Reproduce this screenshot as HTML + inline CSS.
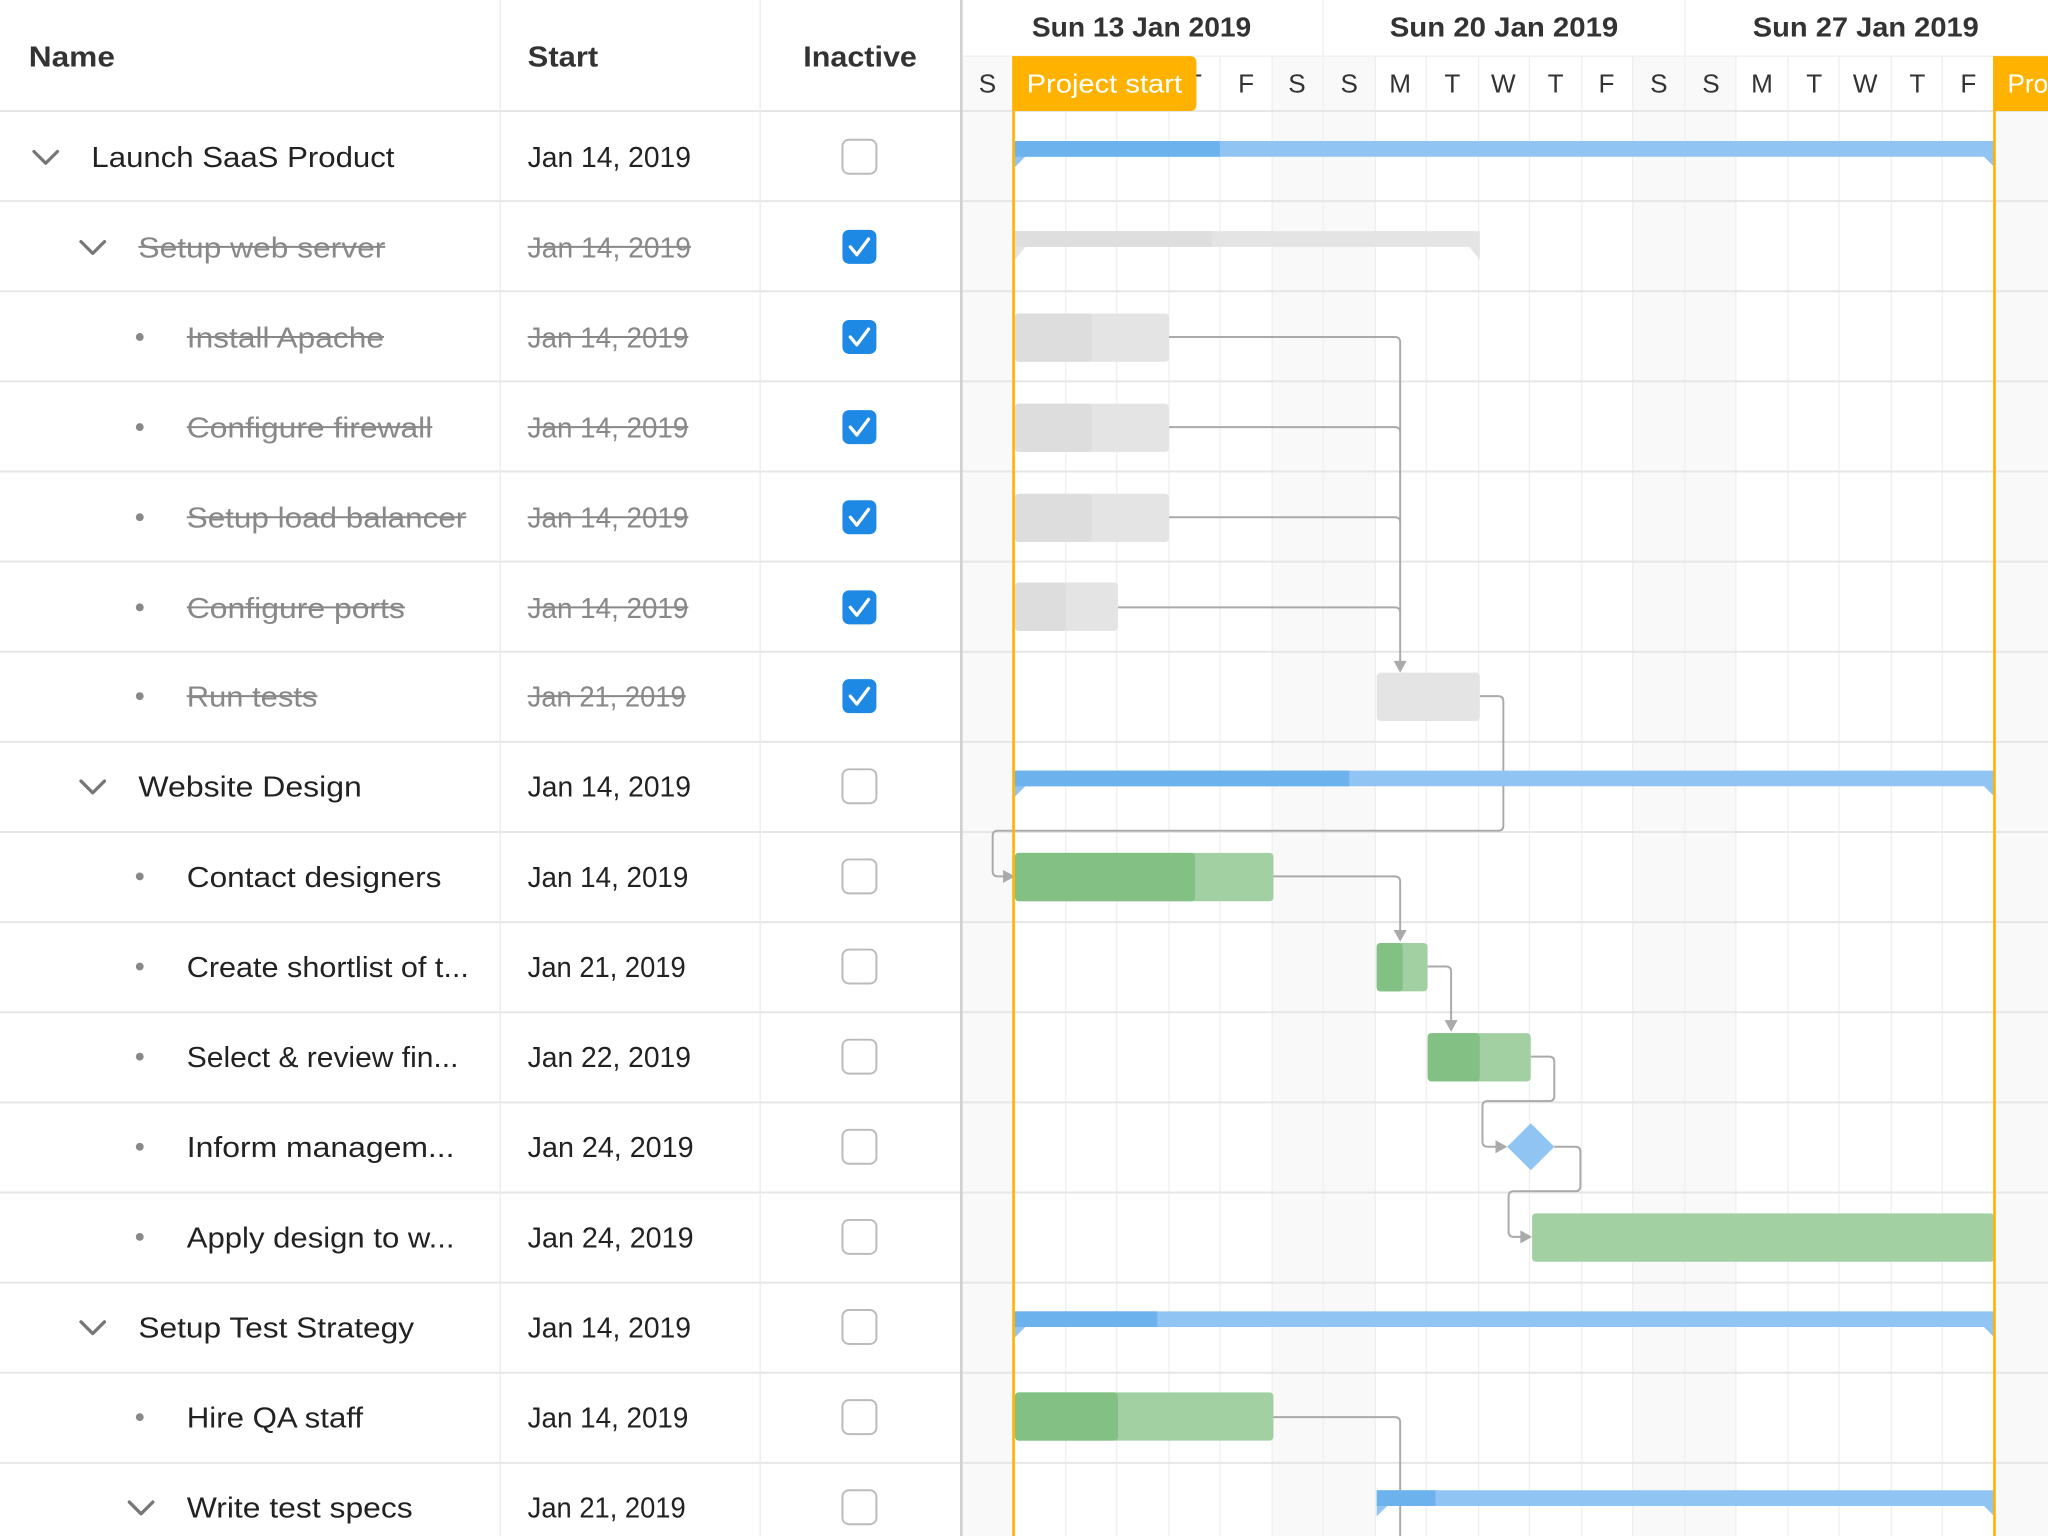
<!DOCTYPE html>
<html><head><meta charset="utf-8"><style>
html,body{margin:0;padding:0;background:#fff;}
svg{display:block}
text{font-family:"Liberation Sans",sans-serif;}
</style></head><body>
<svg width="2048" height="1536" viewBox="0 0 1568 1176" xmlns="http://www.w3.org/2000/svg">
<rect width="1568" height="1176" fill="#fff"/>
<g fill="#f9f9f9">
<rect x="737" y="43" width="39" height="1133"/>
<rect x="974" y="43" width="79" height="1133"/>
<rect x="1250" y="43" width="79" height="1133"/>
<rect x="1527" y="43" width="41" height="1133"/>
</g>
<g stroke="#efefef" stroke-width="1">
<line x1="776" y1="43" x2="776" y2="1176"/><line x1="816" y1="43" x2="816" y2="1176"/>
<line x1="855" y1="43" x2="855" y2="1176"/><line x1="895" y1="43" x2="895" y2="1176"/>
<line x1="934" y1="43" x2="934" y2="1176"/><line x1="974" y1="43" x2="974" y2="1176"/>
<line x1="1053" y1="43" x2="1053" y2="1176"/><line x1="1092" y1="43" x2="1092" y2="1176"/>
<line x1="1132" y1="43" x2="1132" y2="1176"/><line x1="1171" y1="43" x2="1171" y2="1176"/>
<line x1="1211" y1="43" x2="1211" y2="1176"/><line x1="1250" y1="43" x2="1250" y2="1176"/>
<line x1="1329" y1="43" x2="1329" y2="1176"/><line x1="1369" y1="43" x2="1369" y2="1176"/>
<line x1="1408" y1="43" x2="1408" y2="1176"/><line x1="1448" y1="43" x2="1448" y2="1176"/>
<line x1="1487" y1="43" x2="1487" y2="1176"/>
<line x1="1013" y1="0" x2="1013" y2="1176"/><line x1="1290" y1="0" x2="1290" y2="1176"/>
<line x1="737" y1="43" x2="1568" y2="43"/>
</g>
<g stroke="#e6e6e6" stroke-width="1.5">
<line x1="0" y1="85" x2="1568" y2="85"/><line x1="0" y1="154" x2="1568" y2="154"/>
<line x1="0" y1="223" x2="1568" y2="223"/><line x1="0" y1="292" x2="1568" y2="292"/>
<line x1="0" y1="361" x2="1568" y2="361"/><line x1="0" y1="430" x2="1568" y2="430"/>
<line x1="0" y1="499" x2="1568" y2="499"/><line x1="0" y1="568" x2="1568" y2="568"/>
<line x1="0" y1="637" x2="1568" y2="637"/><line x1="0" y1="706" x2="1568" y2="706"/>
<line x1="0" y1="775" x2="1568" y2="775"/><line x1="0" y1="844" x2="1568" y2="844"/>
<line x1="0" y1="913" x2="1568" y2="913"/><line x1="0" y1="982" x2="1568" y2="982"/>
<line x1="0" y1="1051" x2="1568" y2="1051"/><line x1="0" y1="1120" x2="1568" y2="1120"/>
</g>
<g stroke="#ebebeb" stroke-width="1">
<line x1="383" y1="0" x2="383" y2="1176"/><line x1="582" y1="0" x2="582" y2="1176"/>
</g>
<line x1="736" y1="0" x2="736" y2="1176" stroke="#d0d0d0" stroke-width="2"/>

<g font-size="22" fill="#333" font-weight="bold">
<text x="22" y="51" textLength="66" lengthAdjust="spacingAndGlyphs">Name</text>
<text x="404" y="51" textLength="54" lengthAdjust="spacingAndGlyphs">Start</text>
<text x="615" y="51" textLength="87" lengthAdjust="spacingAndGlyphs">Inactive</text>
</g>
<g font-size="21" fill="#333" font-weight="bold">
<text x="790" y="28" textLength="168" lengthAdjust="spacingAndGlyphs">Sun 13 Jan 2019</text>
<text x="1064" y="28" textLength="175" lengthAdjust="spacingAndGlyphs">Sun 20 Jan 2019</text>
<text x="1342" y="28" textLength="173" lengthAdjust="spacingAndGlyphs">Sun 27 Jan 2019</text>
</g>
<g font-size="20" fill="#333" text-anchor="middle">
<text x="756" y="71">S</text><text x="914" y="71">T</text><text x="954" y="71">F</text>
<text x="993" y="71">S</text><text x="1033" y="71">S</text><text x="1072" y="71">M</text>
<text x="1112" y="71">T</text><text x="1151" y="71">W</text><text x="1191" y="71">T</text>
<text x="1230" y="71">F</text><text x="1270" y="71">S</text><text x="1310" y="71">S</text>
<text x="1349" y="71">M</text><text x="1389" y="71">T</text><text x="1428" y="71">W</text>
<text x="1468" y="71">T</text><text x="1507" y="71">F</text>
</g>

<g fill="none" stroke="#777" stroke-width="2.5" stroke-linecap="round" stroke-linejoin="round">
<polyline points="26,116 35,125 44,116"/>
<polyline points="62,185 71,194 80,185"/>
<polyline points="62,598 71,607 80,598"/>
<polyline points="62,1012 71,1021 80,1012"/>
<polyline points="99,1150 108,1159 117,1150"/>
</g>
<g fill="#888">
<circle cx="107" cy="258" r="3"/><circle cx="107" cy="327" r="3"/><circle cx="107" cy="396" r="3"/>
<circle cx="107" cy="465" r="3"/><circle cx="107" cy="533" r="3"/><circle cx="107" cy="671" r="3"/>
<circle cx="107" cy="740" r="3"/><circle cx="107" cy="809" r="3"/><circle cx="107" cy="878" r="3"/>
<circle cx="107" cy="947" r="3"/><circle cx="107" cy="1085" r="3"/>
</g>
<g font-size="22" fill="#222">
<text x="70" y="128" textLength="232" lengthAdjust="spacingAndGlyphs">Launch SaaS Product</text>
<text x="106" y="610" textLength="171" lengthAdjust="spacingAndGlyphs">Website Design</text>
<text x="143" y="679" textLength="195" lengthAdjust="spacingAndGlyphs">Contact designers</text>
<text x="143" y="748" textLength="216" lengthAdjust="spacingAndGlyphs">Create shortlist of t...</text>
<text x="143" y="817" textLength="208" lengthAdjust="spacingAndGlyphs">Select &amp; review fin...</text>
<text x="143" y="886" textLength="205" lengthAdjust="spacingAndGlyphs">Inform managem...</text>
<text x="143" y="955" textLength="205" lengthAdjust="spacingAndGlyphs">Apply design to w...</text>
<text x="106" y="1024" textLength="211" lengthAdjust="spacingAndGlyphs">Setup Test Strategy</text>
<text x="143" y="1093" textLength="135" lengthAdjust="spacingAndGlyphs">Hire QA staff</text>
<text x="143" y="1162" textLength="173" lengthAdjust="spacingAndGlyphs">Write test specs</text>
<text x="404" y="128" textLength="125" lengthAdjust="spacingAndGlyphs">Jan 14, 2019</text>
<text x="404" y="610" textLength="125" lengthAdjust="spacingAndGlyphs">Jan 14, 2019</text>
<text x="404" y="679" textLength="123" lengthAdjust="spacingAndGlyphs">Jan 14, 2019</text>
<text x="404" y="748" textLength="121" lengthAdjust="spacingAndGlyphs">Jan 21, 2019</text>
<text x="404" y="817" textLength="125" lengthAdjust="spacingAndGlyphs">Jan 22, 2019</text>
<text x="404" y="886" textLength="127" lengthAdjust="spacingAndGlyphs">Jan 24, 2019</text>
<text x="404" y="955" textLength="127" lengthAdjust="spacingAndGlyphs">Jan 24, 2019</text>
<text x="404" y="1024" textLength="125" lengthAdjust="spacingAndGlyphs">Jan 14, 2019</text>
<text x="404" y="1093" textLength="123" lengthAdjust="spacingAndGlyphs">Jan 14, 2019</text>
<text x="404" y="1162" textLength="121" lengthAdjust="spacingAndGlyphs">Jan 21, 2019</text>
</g>
<g font-size="22" fill="#888">
<text x="106" y="197" textLength="189" lengthAdjust="spacingAndGlyphs">Setup web server</text>
<text x="143" y="266" textLength="151" lengthAdjust="spacingAndGlyphs">Install Apache</text>
<text x="143" y="335" textLength="188" lengthAdjust="spacingAndGlyphs">Configure firewall</text>
<text x="143" y="404" textLength="214" lengthAdjust="spacingAndGlyphs">Setup load balancer</text>
<text x="143" y="473" textLength="167" lengthAdjust="spacingAndGlyphs">Configure ports</text>
<text x="143" y="541" textLength="100" lengthAdjust="spacingAndGlyphs">Run tests</text>
<text x="404" y="197" textLength="125" lengthAdjust="spacingAndGlyphs">Jan 14, 2019</text>
<text x="404" y="266" textLength="123" lengthAdjust="spacingAndGlyphs">Jan 14, 2019</text>
<text x="404" y="335" textLength="123" lengthAdjust="spacingAndGlyphs">Jan 14, 2019</text>
<text x="404" y="404" textLength="123" lengthAdjust="spacingAndGlyphs">Jan 14, 2019</text>
<text x="404" y="473" textLength="123" lengthAdjust="spacingAndGlyphs">Jan 14, 2019</text>
<text x="404" y="541" textLength="121" lengthAdjust="spacingAndGlyphs">Jan 21, 2019</text>
</g>
<g stroke="#888" stroke-width="1.5">
<line x1="106" y1="189" x2="295" y2="189"/><line x1="143" y1="258" x2="294" y2="258"/>
<line x1="143" y1="327" x2="331" y2="327"/><line x1="143" y1="396" x2="357" y2="396"/>
<line x1="143" y1="465" x2="310" y2="465"/><line x1="143" y1="533" x2="243" y2="533"/>
<line x1="404" y1="189" x2="529" y2="189"/><line x1="404" y1="258" x2="527" y2="258"/>
<line x1="404" y1="327" x2="527" y2="327"/><line x1="404" y1="396" x2="527" y2="396"/>
<line x1="404" y1="465" x2="527" y2="465"/><line x1="404" y1="533" x2="525" y2="533"/>
</g>
<g fill="#fff" stroke="#bbb" stroke-width="1.5">
<rect x="645" y="107" width="26" height="26" rx="5"/>
<rect x="645" y="589" width="26" height="26" rx="5"/>
<rect x="645" y="658" width="26" height="26" rx="5"/>
<rect x="645" y="727" width="26" height="26" rx="5"/>
<rect x="645" y="796" width="26" height="26" rx="5"/>
<rect x="645" y="865" width="26" height="26" rx="5"/>
<rect x="645" y="934" width="26" height="26" rx="5"/>
<rect x="645" y="1003" width="26" height="26" rx="5"/>
<rect x="645" y="1072" width="26" height="26" rx="5"/>
<rect x="645" y="1141" width="26" height="26" rx="5"/>
</g>
<g fill="#1e88e5">
<rect x="645" y="176" width="26" height="26" rx="5"/>
<rect x="645" y="245" width="26" height="26" rx="5"/>
<rect x="645" y="314" width="26" height="26" rx="5"/>
<rect x="645" y="383" width="26" height="26" rx="5"/>
<rect x="645" y="452" width="26" height="26" rx="5"/>
<rect x="645" y="520" width="26" height="26" rx="5"/>
</g>
<g fill="none" stroke="#fff" stroke-width="2.5" stroke-linecap="round" stroke-linejoin="round">
<polyline points="651,189 656,195 665,183"/><polyline points="651,258 656,264 665,252"/>
<polyline points="651,327 656,333 665,321"/><polyline points="651,396 656,402 665,390"/>
<polyline points="651,465 656,471 665,459"/><polyline points="651,533 656,539 665,527"/>
</g>

<g fill="none" stroke="#aaa" stroke-width="1.5">
<path d="M895,258 H1068 Q1072,258 1072,262 V510"/>
<path d="M895,327 H1068 Q1072,327 1072,331"/>
<path d="M895,396 H1068 Q1072,396 1072,400"/>
<path d="M856,465 H1068 Q1072,465 1072,469"/>
<path d="M1133,533 H1147 Q1151,533 1151,537 V632 Q1151,636 1147,636 H764 Q760,636 760,640 V667 Q760,671 764,671 H770"/>
<path d="M975,671 H1068 Q1072,671 1072,675 V716"/>
<path d="M1093,740 H1107 Q1111,740 1111,744 V785"/>
<path d="M1172,809 H1186 Q1190,809 1190,813 V839 Q1190,843 1186,843 H1139 Q1135,843 1135,847 V874 Q1135,878 1139,878 H1148"/>
<path d="M1190,878 H1206 Q1210,878 1210,882 V908 Q1210,912 1206,912 H1159 Q1155,912 1155,916 V943 Q1155,947 1159,947 H1167"/>
<path d="M975,1085 H1068 Q1072,1085 1072,1089 V1176"/>
</g>
<g fill="#aaa">
<polygon points="1067,506 1077,506 1072,515"/>
<polygon points="768,666 768,676 777,671"/>
<polygon points="1067,712 1077,712 1072,721"/>
<polygon points="1106,781 1116,781 1111,790"/>
<polygon points="1145,873 1145,883 1154,878"/>
<polygon points="1164,942 1164,952 1173,947"/>
</g>

<path d="M777,108 H1527 V128 L1519,120 H785 L777,128 Z" fill="#90c4f2"/>
<rect x="777" y="108" width="157" height="12" fill="#6cb2ec"/>
<path d="M777,177 H1133 V199 L1125,189 H785 L777,199 Z" fill="#e4e4e4"/>
<rect x="777" y="177" width="151" height="12" fill="#dedede"/>
<g>
<rect x="777" y="240" width="118" height="37" rx="3" fill="#e4e4e4"/><rect x="777" y="240" width="59" height="37" rx="3" fill="#dddddd"/>
<rect x="777" y="309" width="118" height="37" rx="3" fill="#e4e4e4"/><rect x="777" y="309" width="59" height="37" rx="3" fill="#dddddd"/>
<rect x="777" y="378" width="118" height="37" rx="3" fill="#e4e4e4"/><rect x="777" y="378" width="59" height="37" rx="3" fill="#dddddd"/>
<rect x="777" y="446" width="79" height="37" rx="3" fill="#e4e4e4"/><rect x="777" y="446" width="39" height="37" rx="3" fill="#dddddd"/>
<rect x="1054" y="515" width="79" height="37" rx="3" fill="#e4e4e4"/>
</g>
<path d="M777,590 H1527 V610 L1519,602 H785 L777,610 Z" fill="#90c4f2"/>
<rect x="777" y="590" width="256" height="12" fill="#6cb2ec"/>
<rect x="777" y="653" width="198" height="37" rx="3" fill="#a3d0a3"/><rect x="777" y="653" width="138" height="37" rx="3" fill="#82c084"/>
<rect x="1054" y="722" width="39" height="37" rx="3" fill="#a3d0a3"/><rect x="1054" y="722" width="20" height="37" rx="3" fill="#82c084"/>
<rect x="1093" y="791" width="79" height="37" rx="3" fill="#a3d0a3"/><rect x="1093" y="791" width="40" height="37" rx="3" fill="#82c084"/>
<polygon points="1172,860 1190,878 1172,896 1154,878" fill="#90c4f2"/>
<rect x="1173" y="929" width="354" height="37" rx="3" fill="#a3d0a3"/>
<path d="M777,1004 H1527 V1024 L1519,1016 H785 L777,1024 Z" fill="#90c4f2"/>
<rect x="777" y="1004" width="109" height="12" fill="#6cb2ec"/>
<rect x="777" y="1066" width="198" height="37" rx="3" fill="#a3d0a3"/><rect x="777" y="1066" width="79" height="37" rx="3" fill="#82c084"/>
<path d="M1054,1141 H1527 V1161 L1519,1153 H1062 L1054,1161 Z" fill="#90c4f2"/>
<rect x="1054" y="1141" width="45" height="12" fill="#6cb2ec"/>

<line x1="776" y1="43" x2="776" y2="1176" stroke="#ffb300" stroke-width="2"/>
<line x1="1527" y1="43" x2="1527" y2="1176" stroke="#ffb300" stroke-width="2"/>
<path d="M775,43 H911 Q916,43 916,48 V80 Q916,85 911,85 H775 Z" fill="#ffb300"/>
<rect x="1526" y="43" width="42" height="42" fill="#ffb300"/>
<text x="786" y="71" font-size="20" fill="#fff" textLength="119" lengthAdjust="spacingAndGlyphs">Project start</text>
<text x="1537" y="71" font-size="20" fill="#fff">Pro</text>
</svg>
</body></html>
